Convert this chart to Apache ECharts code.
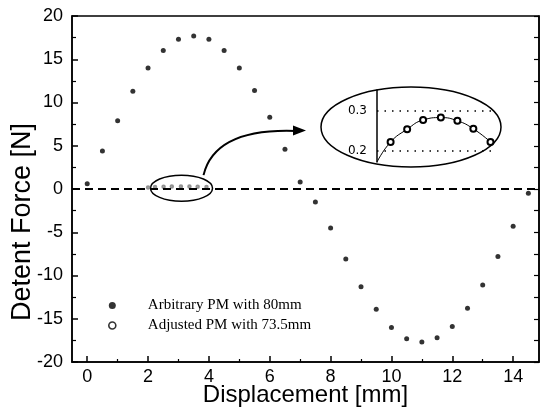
<!DOCTYPE html>
<html>
<head>
<meta charset="utf-8">
<script src="https://cdn.jsdelivr.net/npm/echarts@6/dist/echarts.min.js"></script>
<style>
  html, body { margin: 0; padding: 0; background: #fff; }
  #chart { width: 545px; height: 410px; }
</style>
</head>
<body>
<div id="chart"></div>
<script>
// 数据
const dispX = [0, 0.5, 1, 1.5, 2, 2.5, 3, 3.5, 4, 4.5, 5, 5.5, 6, 6.5, 7,
    7.5, 8, 8.5, 9, 9.5, 10, 10.5, 11, 11.5, 12, 12.5, 13, 13.5, 14, 14.5];
const arbitraryForce = [0.6, 4.4, 7.9, 11.3, 14.0, 16.0, 17.3, 17.7, 17.3, 16.0, 14.0, 11.4, 8.3, 4.6, 0.8,
    -1.5, -4.5, -8.1, -11.3, -13.9, -16.0, -17.3, -17.7, -17.2, -15.9, -13.8, -11.1, -7.8, -4.3, -0.5];

// 放大图中的数据 (Adjusted PM)
const adjustedX = [2.0, 2.23, 2.51, 2.78, 3.08, 3.36, 3.63, 3.92];
const adjustedForce = [0.172, 0.222, 0.254, 0.277, 0.283, 0.275, 0.255, 0.222];

const xMajorTicks = [0, 2, 4, 6, 8, 10, 12, 14];
const xMinorTicks = [1, 3, 5, 7, 9, 11, 13];
const insetTicks = [0.2, 0.3];

const seriesNames = ['Arbitrary PM with 80mm', 'Adjusted PM with 73.5mm'];

const chart = echarts.init(document.getElementById('chart'));

function pairs(xs, ys) {
    return xs.map((x, i) => [x, ys[i]]);
}

const sansFont = 'Liberation Sans, Arial, sans-serif';

const option = {
    backgroundColor: '#fff',
    animation: false,
    grid: [
        { left: 72, top: 16, right: 6, bottom: 48, show: true, borderColor: '#000', borderWidth: 1.5, outerBoundsMode: 'none' },
        { left: 377, top: 90, width: 120, height: 72, outerBoundsMode: 'none' }
    ],
    legend: {
        orient: 'vertical',
        left: 108,
        top: 298,
        padding: 0,
        itemWidth: 7,
        itemHeight: 7,
        itemGap: 5,
        textStyle: { fontFamily: 'Liberation Serif, serif', fontSize: 15, color: '#000', padding: [0, 0, 0, 27] },
        data: [
            { name: seriesNames[0], icon: 'circle', itemStyle: { color: '#000', borderWidth: 0 } },
            { name: seriesNames[1], icon: 'circle', itemStyle: { color: '#fff', borderColor: '#000', borderWidth: 1.6 } }
        ]
    },
    xAxis: [
        {
            gridIndex: 0, type: 'value', min: -0.5, max: 14.85,
            name: 'Displacement [mm]', nameLocation: 'middle', nameGap: 21, nameMoveOverlap: false,
            nameTextStyle: { fontFamily: sansFont, fontSize: 24, color: '#000' },
            axisLine: { onZero: false, lineStyle: { color: '#000', width: 1.5 } },
            axisTick: { inside: true, length: 6, customValues: xMajorTicks, lineStyle: { color: '#000', width: 1.5 } },
            axisLabel: { customValues: xMajorTicks, fontFamily: sansFont, fontSize: 18, color: '#000', margin: 6 },
            splitLine: { show: false }
        },
        {
            gridIndex: 0, type: 'value', min: -0.5, max: 14.85, position: 'bottom',
            axisLine: { show: false, onZero: false },
            axisTick: { inside: true, length: 3, customValues: xMinorTicks, lineStyle: { color: '#000', width: 1.2 } },
            axisLabel: { show: false },
            splitLine: { show: false }
        },
        {
            gridIndex: 1, type: 'value', min: 2.0, max: 4.03, show: false
        }
    ],
    yAxis: [
        {
            gridIndex: 0, type: 'value', min: -20, max: 20, interval: 5,
            name: 'Detent Force [N]', nameLocation: 'middle', nameGap: 36, nameMoveOverlap: false,
            nameTextStyle: { fontFamily: sansFont, fontSize: 27, color: '#000', padding: [0, 66, 0, 0] },
            axisLine: { onZero: false, lineStyle: { color: '#000', width: 1.5 } },
            axisTick: { inside: true, length: 6, lineStyle: { color: '#000', width: 1.5 } },
            minorTick: { show: true, splitNumber: 2, length: 4, lineStyle: { color: '#000', width: 1.2 } },
            axisLabel: { fontFamily: sansFont, fontSize: 18, color: '#000', margin: 9 },
            splitLine: { show: false }
        },
        {
            gridIndex: 0, type: 'value', min: -20, max: 20, interval: 2.5, position: 'right',
            axisLine: { onZero: false, lineStyle: { color: '#000', width: 1.5 } },
            axisTick: { inside: true, length: 5, lineStyle: { color: '#000', width: 1.2 } },
            axisLabel: { show: false },
            splitLine: { show: false }
        },
        {
            gridIndex: 1, type: 'value', min: 0.172, max: 0.352,
            axisLine: { show: true, onZero: false, lineStyle: { color: '#000', width: 1.5 } },
            axisTick: { show: false },
            axisLabel: {
                customValues: insetTicks, fontFamily: 'DejaVu Sans, sans-serif', fontSize: 12,
                color: '#000', margin: 10, formatter: v => v.toFixed(1)
            },
            splitLine: { show: false }
        }
    ],
    series: [
        {
            name: seriesNames[0],
            type: 'scatter',
            xAxisIndex: 0, yAxisIndex: 0,
            symbol: 'circle',
            symbolSize: 5,
            itemStyle: { color: '#000' },
            data: pairs(dispX, arbitraryForce),
            markLine: {
                silent: true,
                symbol: ['none', 'none'],
                label: { show: false },
                lineStyle: { color: '#000', type: [8, 5], width: 1.8 },
                data: [{ yAxis: 0 }]
            }
        },
        {
            name: seriesNames[1],
            type: 'scatter',
            xAxisIndex: 0, yAxisIndex: 0,
            symbol: 'emptyCircle',
            symbolSize: 2.5,
            itemStyle: { color: '#777', borderWidth: 0.6 },
            data: pairs(adjustedX, adjustedForce)
        },
        {
            // 放大图
            name: seriesNames[1],
            type: 'line',
            xAxisIndex: 2, yAxisIndex: 2,
            smooth: true,
            symbol: 'emptyCircle',
            symbolSize: 6,
            lineStyle: { color: '#000', width: 1 },
            itemStyle: { color: '#000', borderWidth: 1.2 },
            data: pairs(adjustedX, adjustedForce).map((p, i) => i === 0 ? { value: p, symbol: 'none' } : p),
            markLine: {
                silent: true,
                symbol: ['none', 'none'],
                label: { show: false },
                lineStyle: { color: '#000', type: [1.5, 6], width: 1.5 },
                data: insetTicks.map(v => ({ yAxis: v }))
            }
        }
    ]
};

chart.setOption(option);

/**
 * 标注：椭圆和箭头
 */
function drawAnnotations() {
    const c = chart.convertToPixel({ gridIndex: 0 }, [3.1, 0.1]);
    chart.setOption({
        graphic: [
            {
                type: 'ellipse',
                shape: { cx: c[0], cy: c[1], rx: 31, ry: 13 },
                style: { fill: 'none', stroke: '#000', lineWidth: 1.5 }
            },
            {
                type: 'ellipse',
                shape: { cx: 411, cy: 127, rx: 90, ry: 40 },
                style: { fill: 'none', stroke: '#000', lineWidth: 1.5 }
            },
            {
                type: 'bezierCurve',
                shape: { x1: c[0] + 22, y1: c[1] - 13, cpx1: 215, cpy1: 128, x2: 296, y2: 131 },
                style: { fill: 'none', stroke: '#000', lineWidth: 2 }
            },
            {
                type: 'polygon',
                shape: { points: [[306, 130.5], [293, 125.5], [293, 135.5]] },
                style: { fill: '#000' }
            }
        ]
    });
}

drawAnnotations();
</script>
</body>
</html>
